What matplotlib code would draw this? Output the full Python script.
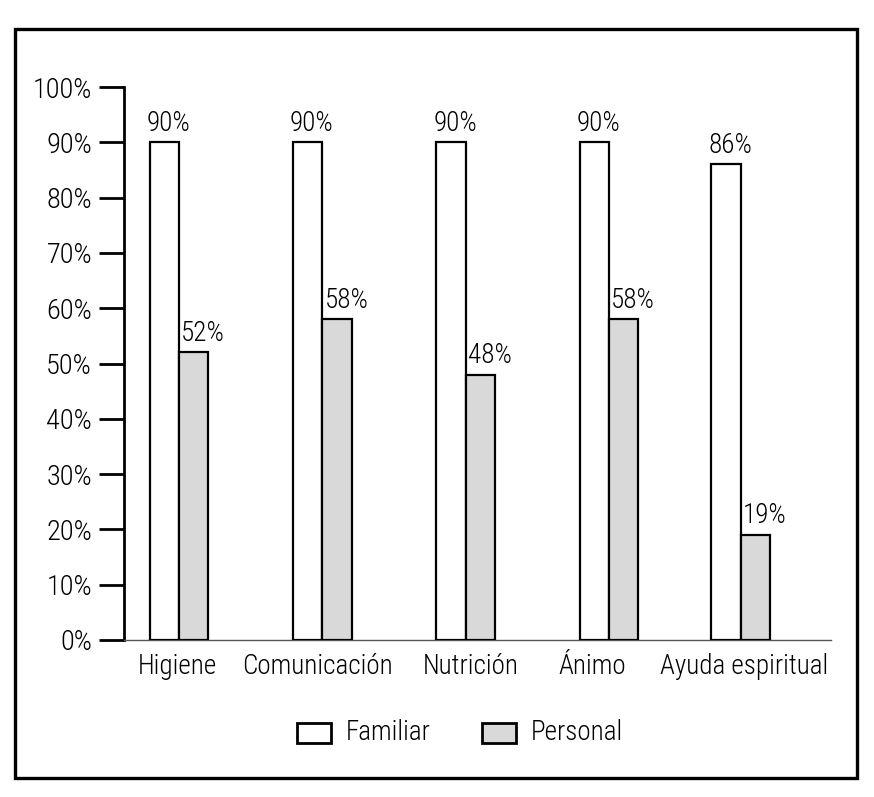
import matplotlib.pyplot as plt
from matplotlib import font_manager
from matplotlib.patches import Rectangle

categories = ['Higiene', 'Comunicación', 'Nutrición', 'Ánimo', 'Ayuda espiritual']
familiar = [90, 90, 90, 90, 86]
personal = [52, 58, 48, 58, 19]
yticks = [0, 10, 20, 30, 40, 50, 60, 70, 80, 90, 100]

# group positions (last group sits a bit closer in the original)
pos = [0, 1, 2, 3, 3.92]
# category labels are not exactly centred under the groups in the original
label_pos = [-0.014, 0.963, 2.038, 2.882, 3.946]
w = 0.205

# pick a narrow font if one is installed
names = {f.name for f in font_manager.fontManager.ttflist}
family = 'Liberation Sans'
for cand in ['Liberation Sans Narrow', 'Roboto Condensed', 'Open Sans Condensed', 'DejaVu Sans Condensed']:
    if cand in names:
        family = cand
        break

plt.rcParams['font.family'] = [family, 'DejaVu Sans']
plt.rcParams['font.weight'] = 'light'

fig = plt.figure(figsize=(8.74, 7.97), dpi=100)
ax = fig.add_axes([124 / 874, 1 - 640 / 797, 707 / 874, 553 / 797])

ax.bar([p - w / 2 for p in pos], familiar, w, color='white', edgecolor='black', linewidth=1.6, zorder=3)
ax.bar([p + w / 2 for p in pos], personal, w, color='#d9d9d9', edgecolor='black', linewidth=1.6, zorder=3)

for p, f, s in zip(pos, familiar, personal):
    ax.annotate(f'{f}%', (p - w / 2, f), xytext=(3, 4), textcoords='offset points',
                ha='center', va='bottom', fontsize=19.5)
    ax.annotate(f'{s}%', (p, s), xytext=(1.5, 4), textcoords='offset points',
                ha='left', va='bottom', fontsize=19.5)

ax.set_xlim(-0.384, 4.55)
ax.set_ylim(0, 100)
ax.set_yticks(yticks)
ax.set_yticklabels([f'{t}%' for t in yticks], fontsize=20.5)
ax.set_xticks(label_pos)
ax.set_xticklabels(categories, fontsize=19.5)
ax.tick_params(axis='y', direction='out', length=18, width=2, pad=5)
ax.tick_params(axis='x', length=0, pad=9)

for side in ['top', 'right']:
    ax.spines[side].set_visible(False)
ax.spines['left'].set_linewidth(2)
ax.spines['bottom'].set_linewidth(1)
ax.spines['bottom'].set_color('#555555')

# legend drawn by hand in figure coords
def legend_item(x, label, color):
    fig.patches.append(Rectangle((x / 874, 1 - 743 / 797), 34 / 874, 20 / 797,
                                 transform=fig.transFigure, facecolor=color,
                                 edgecolor='black', linewidth=2))
    fig.text((x + 49) / 874, 1 - 733 / 797, label, va='center', ha='left', fontsize=19.5)

legend_item(297, 'Familiar', 'white')
legend_item(482, 'Personal', '#d9d9d9')

# outer frame
fig.patches.append(Rectangle((15.5 / 874, 1 - 777.5 / 797), 841 / 874, 748.5 / 797,
                             transform=fig.transFigure, fill=False,
                             edgecolor='black', linewidth=2.4))

fig.savefig('out.png', dpi=100)
